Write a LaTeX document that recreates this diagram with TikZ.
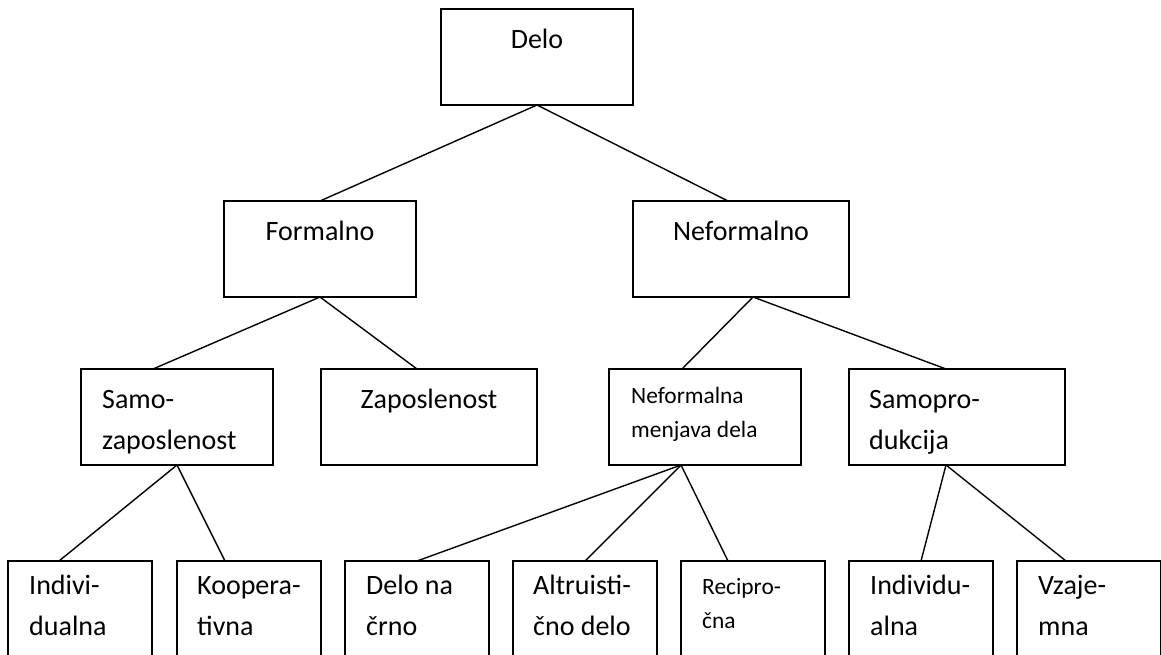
\documentclass[tikz,border=0pt]{standalone}
\usepackage{fontspec}
\setmainfont{Carlito}

\begin{document}
\begin{tikzpicture}[x=1pt, y=-1pt,
  box/.style={draw, line width=1.5pt, anchor=north west, minimum height=96pt, inner sep=0pt, outer sep=0pt},
  lowbox/.style={box, minimum width=144pt, minimum height=130pt},
  txt/.style={inner sep=0pt, align=left, anchor=base west, font=\fontsize{28}{41}\selectfont},
  smalltxt/.style={txt, font=\fontsize{23.4}{34}\selectfont},
  link/.style={line width=1.4pt}]
  \useasboundingbox (0,0) rectangle (1161,654);
  \clip (0,0) rectangle (1161,654);

  % top and second level
  \node[box, minimum width=192pt] (delo) at (441,9) {};
  \node[box, minimum width=192pt] (formalno) at (224,201) {};
  \node[box, minimum width=216pt] (neformalno) at (633,201) {};

  % third level
  \node[box, minimum width=192pt] (samozap) at (81,369) {};
  \node[box, minimum width=216pt] (zaposlenost) at (321,369) {};
  \node[box, minimum width=192pt] (menjava) at (609,369) {};
  \node[box, minimum width=216pt] (samoprod) at (849,369) {};

  % bottom row, cut off by the page edge
  \node[lowbox] (indiv) at (8,561) {};
  \node[lowbox] (koop) at (177,561) {};
  \node[lowbox] (crno) at (345,561) {};
  \node[lowbox] (altru) at (513,561) {};
  \node[lowbox] (recipr) at (681,561) {};
  \node[lowbox] (indivdu) at (849,561) {};
  \node[lowbox] (vzaj) at (1017,561) {};

  % texts (base = last line)
  \node[txt, anchor=base, yshift=-39pt] (delo-t) at (delo.north) {Delo};
  \node[txt, anchor=base, yshift=-39pt] (formalno-t) at (formalno.north) {Formalno};
  \node[txt, anchor=base, yshift=-39pt] (neformalno-t) at (neformalno.north) {Neformalno};
  \node[txt, xshift=21pt, yshift=-80pt] (samozap-t) at (samozap.north west) {Samo-\\zaposlenost};
  \node[txt, anchor=base, yshift=-39pt] (zaposlenost-t) at (zaposlenost.north) {Zaposlenost};
  \node[smalltxt, xshift=22pt, yshift=-68pt] (menjava-t) at (menjava.north west) {Neformalna\\menjava dela};
  \node[txt, xshift=20pt, yshift=-80pt] (samoprod-t) at (samoprod.north west) {Samopro-\\dukcija};
  \node[txt, xshift=21pt, yshift=-74pt] (indiv-t) at (indiv.north west) {Indivi-\\dualna};
  \node[txt, xshift=20pt, yshift=-74pt] (koop-t) at (koop.north west) {Koopera-\\tivna};
  \node[txt, xshift=21pt, yshift=-74pt] (crno-t) at (crno.north west) {Delo na\\črno};
  \node[txt, xshift=20pt, yshift=-74pt] (altru-t) at (altru.north west) {Altruisti-\\čno delo};
  \node[smalltxt, xshift=21pt, yshift=-67pt] (recipr-t) at (recipr.north west) {Recipro-\\čna};
  \node[txt, xshift=21pt, yshift=-74pt] (indivdu-t) at (indivdu.north west) {Individu-\\alna};
  \node[txt, xshift=21pt, yshift=-74pt] (vzaj-t) at (vzaj.north west) {Vzaje-\\mna};

  % connectors
  \draw[link] (delo.south) -- (formalno.north);
  \draw[link] (delo.south) -- ([xshift=-13pt]neformalno.north);
  \draw[link] (formalno.south) -- ([xshift=-24pt]samozap.north);
  \draw[link] (formalno.south) -- ([xshift=-12pt]zaposlenost.north);
  \draw[link] ([xshift=12pt]neformalno.south) -- ([xshift=-23pt]menjava.north);
  \draw[link] ([xshift=12pt]neformalno.south) -- ([xshift=-11pt]samoprod.north);
  \draw[link] (samozap.south) -- ([xshift=-21pt]indiv.north);
  \draw[link] (samozap.south) -- ([xshift=-24pt]koop.north);
  \draw[link] ([xshift=-24pt]menjava.south) -- (crno.north);
  \draw[link] ([xshift=-24pt]menjava.south) -- (altru.north);
  \draw[link] ([xshift=-24pt]menjava.south) -- ([xshift=-25pt]recipr.north);
  \draw[link] ([xshift=-11pt]samoprod.south) -- (indivdu.north);
  \draw[link] ([xshift=-11pt]samoprod.south) -- ([xshift=-23pt]vzaj.north);
\end{tikzpicture}
\end{document}
